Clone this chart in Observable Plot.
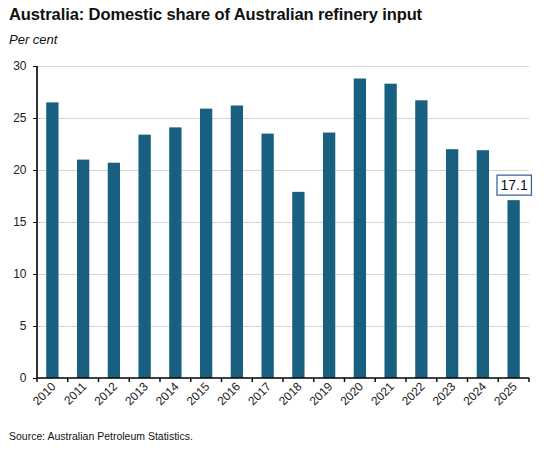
<!DOCTYPE html>
<html>
<head>
<meta charset="utf-8">
<script src="https://cdn.jsdelivr.net/npm/d3@7"></script>
<script src="https://cdn.jsdelivr.net/npm/@observablehq/plot@0.6"></script>
<style>
  body { margin: 0; background: #fff; font-family: "Liberation Sans", Arial, sans-serif; color: #111; }
  #wrap { position: relative; width: 548px; height: 454px; }
  #title { position: absolute; left: 9px; top: 5px; font-size: 16.5px; font-weight: bold; letter-spacing: -0.1px; }
  #subtitle { position: absolute; left: 9px; top: 32px; font-size: 13px; font-style: italic; }
  #chart { position: absolute; left: 0; top: 50px; }
  #source { position: absolute; left: 9px; top: 430px; font-size: 10.5px; }
</style>
</head>
<body>
<div id="wrap">
  <div id="title">Australia: Domestic share of Australian refinery input</div>
  <div id="subtitle">Per cent</div>
  <div id="chart"></div>
  <div id="source">Source: Australian Petroleum Statistics.</div>
</div>
<script>
const years = ["2010","2011","2012","2013","2014","2015","2016","2017","2018","2019","2020","2021","2022","2023","2024","2025"];
const shares = [26.5, 21.0, 20.7, 23.4, 24.1, 25.9, 26.2, 23.5, 17.9, 23.6, 28.8, 28.3, 26.7, 22.0, 21.9, 17.1];
const yTicks = [0, 5, 10, 15, 20, 25, 30];
const labelIndex = years.length - 1;

const data = years.map((y, i) => ({year: y, value: shares[i]}));
const barColor = "#185f80";

// draws axis lines and tick marks at band boundaries
function frameAndTicks(index, scales, values, dimensions) {
  const {x, y} = scales;
  const step = x(years[1]) - x(years[0]);
  const half = step * 0.3; // paddingInner/2 * step
  const g = d3.create("svg:g");
  const y0 = y(0);
  const left = dimensions.marginLeft;
  const right = dimensions.width - dimensions.marginRight;
  g.append("line").attr("x1", left).attr("x2", left).attr("y1", y(30)).attr("y2", y0)
    .attr("stroke", "#000").attr("stroke-width", 1.6);
  g.append("line").attr("x1", left).attr("x2", right).attr("y1", y0).attr("y2", y0)
    .attr("stroke", "#000").attr("stroke-width", 1.6);
  const bounds = years.map(yr => x(yr) - half).concat([x(years[years.length - 1]) + step - half]);
  for (const bx of bounds) {
    g.append("line").attr("x1", bx).attr("x2", bx).attr("y1", y0).attr("y2", y0 + 4)
      .attr("stroke", "#000").attr("stroke-width", 1.4);
  }
  return g.node();
}

const chart = Plot.plot({
  width: 548,
  height: 380,
  marginTop: 16,
  marginLeft: 37,
  marginRight: 19,
  marginBottom: 52,
  style: {fontFamily: "Liberation Sans, Arial, sans-serif", fontSize: "12px", color: "#222"},
  x: {domain: years, paddingInner: 0.6, paddingOuter: 0.3, round: false, label: null},
  y: {domain: [0, 30], label: null},
  marks: [
    Plot.ruleY(yTicks.filter(d => d > 0), {stroke: "#d4d4d4", strokeWidth: 1}),
    Plot.barY(data, {x: "year", y: "value", fill: barColor}),
    Plot.axisY({ticks: yTicks, tickSize: 4, tickPadding: 7, stroke: "#000", fontSize: 12, label: null}),
    Plot.axisX({tickSize: 0, tickRotate: -45, tickPadding: 6, dx: 1, fontSize: 12, label: null}),
    frameAndTicks,
    Plot.text([data[labelIndex]], {x: "year", y: "value", text: d => d.value.toFixed(1), dy: -15, fontSize: 14, fill: "#111", className: "anno"})
  ]
});
document.getElementById("chart").appendChild(chart);

// box around the annotation
const t = chart.querySelector(".anno text");
if (t) {
  const b = t.getBBox();
  const padX = 3.5, padY = 2;
  const r = document.createElementNS("http://www.w3.org/2000/svg", "rect");
  r.setAttribute("x", b.x - padX);
  r.setAttribute("y", b.y - padY);
  r.setAttribute("width", b.width + 2 * padX);
  r.setAttribute("height", b.height + 2 * padY);
  r.setAttribute("fill", "#fff");
  r.setAttribute("stroke", "#2f5f9a");
  r.setAttribute("stroke-width", 1.2);
  const tr = t.getAttribute("transform");
  if (tr) r.setAttribute("transform", tr);
  t.parentNode.insertBefore(r, t);
}
</script>
</body>
</html>
